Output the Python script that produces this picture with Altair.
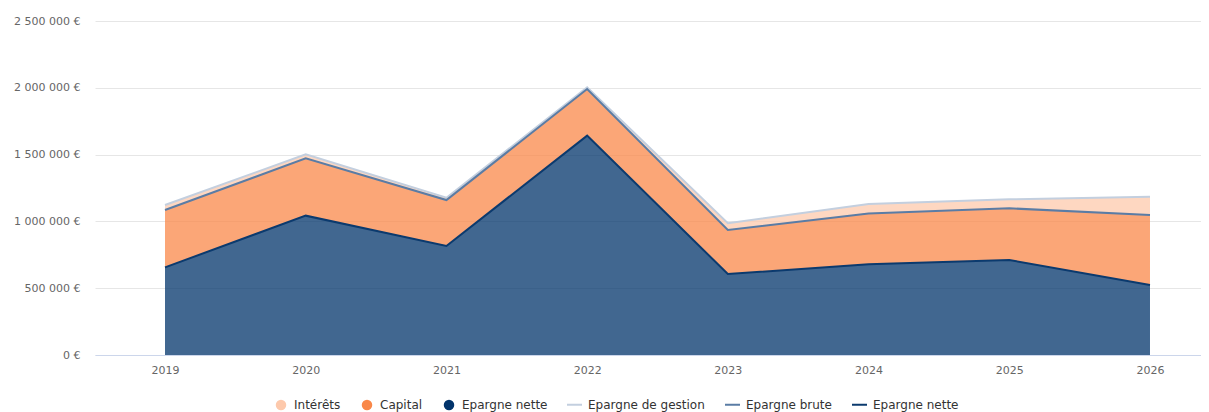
import altair as alt
import pandas as pd

years = [2019, 2020, 2021, 2022, 2023, 2024, 2025, 2026]
epargne_gestion = [1123000, 1502000, 1177000, 2004000, 986000, 1130000, 1165000, 1185000]
epargne_brute = [1085000, 1472000, 1160000, 1991000, 936000, 1060000, 1098000, 1048000]
epargne_nette = [656000, 1043000, 816000, 1642000, 606000, 679000, 711000, 524000]

area_names = ["Intérêts", "Capital", "Epargne nette"]
area_colors = ["#FDC9AC", "#F98849", "#02346B"]
line_names = ["Epargne de gestion", "Epargne brute", "Epargne nette"]
line_colors = ["#C3CFDF", "#5A7CA5", "#0B3A6E"]
y_ticks = [0, 500000, 1000000, 1500000, 2000000, 2500000]

rows_area = []
rows_line = []
for i, yr in enumerate(years):
    rows_area.append({"year": yr, "serie": "Epargne nette", "low": 0, "high": epargne_nette[i], "o": 0})
    rows_area.append({"year": yr, "serie": "Capital", "low": epargne_nette[i], "high": epargne_brute[i], "o": 1})
    rows_area.append({"year": yr, "serie": "Intérêts", "low": epargne_brute[i], "high": epargne_gestion[i], "o": 2})
    rows_line.append({"year": yr, "serie": "Epargne de gestion", "value": epargne_gestion[i], "o": 0})
    rows_line.append({"year": yr, "serie": "Epargne brute", "value": epargne_brute[i], "o": 1})
    rows_line.append({"year": yr, "serie": "Epargne nette", "value": epargne_nette[i], "o": 2})

df_area = pd.DataFrame(rows_area)
df_line = pd.DataFrame(rows_line)

FONT = "DejaVu Sans"

x_enc = alt.X(
    "year:Q",
    scale=alt.Scale(domain=[2018.5025, 2026.3625], nice=False, zero=False),
    axis=alt.Axis(
        values=years, format="d", title=None, grid=False, ticks=False,
        domainColor="#ccd6eb", labelColor="#666666", labelFont=FONT,
        labelFontSize=11, labelPadding=9,
    ),
)

y_scale = alt.Scale(domain=[0, 2500000], nice=False)
y_axis = alt.Axis(
    values=y_ticks, title=None, domain=False, ticks=False,
    gridColor="#e6e6e6", labelColor="#666666", labelFont=FONT,
    labelFontSize=11, labelPadding=15,
    labelExpr="replace(format(datum.value, ','), regexp(',', 'g'), ' ') + ' €'",
)

areas = alt.Chart(df_area).mark_area(fillOpacity=0.75).encode(
    x=x_enc,
    y=alt.Y("low:Q", scale=y_scale, axis=y_axis),
    y2="high:Q",
    fill=alt.Fill(
        "serie:N",
        scale=alt.Scale(domain=area_names, range=area_colors),
        legend=alt.Legend(
            title=None, orient="none", direction="horizontal",
            legendX=180, legendY=378, symbolType="circle", symbolSize=110,
            symbolOpacity=1, labelFont=FONT, labelFontSize=12,
            labelColor="#333333", labelOffset=7, columnPadding=20,
        ),
    ),
    detail="serie:N",
)

lines = alt.Chart(df_line).mark_line(strokeWidth=2).encode(
    x=x_enc,
    y=alt.Y("value:Q", scale=y_scale, axis=y_axis),
    stroke=alt.Stroke(
        "serie:N",
        scale=alt.Scale(domain=line_names, range=line_colors),
        legend=alt.Legend(
            title=None, orient="none", direction="horizontal",
            legendX=471, legendY=375, symbolType="stroke", symbolSize=225,
            symbolStrokeWidth=2, labelFont=FONT, labelFontSize=12,
            labelColor="#333333", labelOffset=5, columnPadding=16,
        ),
    ),
    order="o:Q",
)

chart = alt.layer(areas, lines).resolve_scale(fill="independent", stroke="independent").properties(
    width=1106,
    height=334,
    padding={"left": 87, "top": 13, "right": 0, "bottom": 70},
    autosize=alt.AutoSizeParams(type="none"),
).configure_view(stroke=None)

chart.save("out.html", embed_options={"renderer": "svg", "actions": False})
